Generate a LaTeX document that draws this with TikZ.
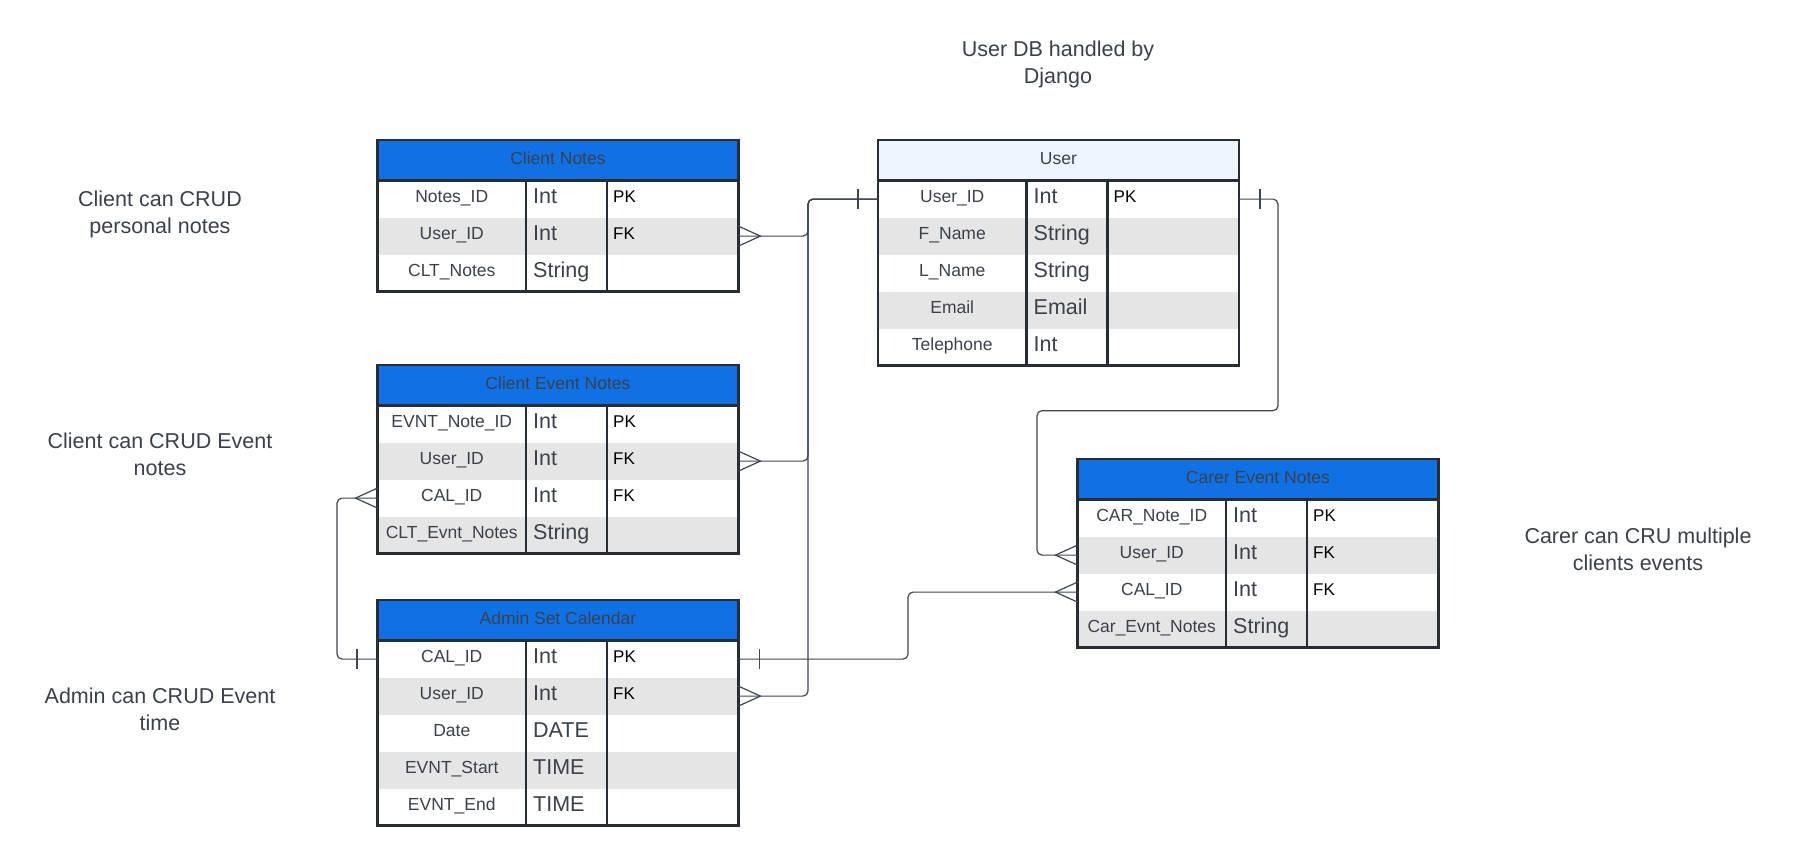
\documentclass[tikz,border=0pt]{standalone}
\usepackage{fontspec}
\setmainfont{Liberation Sans}
\usetikzlibrary{calc}
\definecolor{txt}{HTML}{3A414A}
\definecolor{hdrblue}{HTML}{1071E5}
\definecolor{userhdr}{HTML}{EDF5FF}
\definecolor{rowgray}{HTML}{E5E5E5}
\definecolor{bord}{HTML}{282C33}
\definecolor{linec}{HTML}{3F464F}

\newcommand\ertable[7]{%
  \node[hdrbox, fill=#5, anchor=north west] (#1-h) at (#2,#3) {};
  \node[hdrtext, anchor=base] (#1-title) at ($(#1-h.center)+(0,4.5)$) {#4};
  \foreach \n/\t/\k [count=\i] in {#7} {
    \ifodd\i \def\rf{white}\else \def\rf{rowgray}\fi
    \node[rowbox, fill=\rf, anchor=north west] (#1-r\i) at ($(#1-h.south west)+(0,{37*(\i-1)})$) {};
    \node[nametext, anchor=base] (#1-n\i) at ($(#1-r\i.west)+(74.25,3.5)$) {\n};
    \node[typetext, anchor=base west] (#1-t\i) at ($(#1-r\i.west)+(155.5,4.5)$) {\t};
    \node[keytext, anchor=base west] (#1-k\i) at ($(#1-r\i.west)+(235.5,3.5)$) {\k};
  }
  \draw[border] (#1-h.north west) rectangle ($(#1-h.south east)+(0,{37*#6})$);
  \draw[border] (#1-h.south west) -- (#1-h.south east);
  \draw[border] ($(#1-h.south west)+(148.5,0)$) -- ++(0,{37*#6});
  \draw[border] ($(#1-h.south west)+(229.5,0)$) -- ++(0,{37*#6});
}
\newcommand\crowR[1]{\draw[conn] ($(#1)+(0,-10)$) -- ++(22,10) -- ++(-22,10);}
\newcommand\crowL[1]{\draw[conn] ($(#1)+(0,-10)$) -- ++(-22,10) -- ++(22,10);}
\newcommand\onebar[2]{\draw[conn] ($(#1)+(#2,-10)$) -- ++(0,20);}

\begin{document}
\begin{tikzpicture}[x=1bp,y=-1bp,
  hdrbox/.style={minimum width=360.5bp, minimum height=40bp, inner sep=0pt, draw=none},
  rowbox/.style={minimum width=360.5bp, minimum height=37bp, inner sep=0pt, draw=none},
  hdrtext/.style={font=\fontsize{17.5bp}{21bp}\selectfont, text=txt, inner sep=0pt},
  nametext/.style={font=\fontsize{17.5bp}{21bp}\selectfont, text=txt, inner sep=0pt},
  typetext/.style={font=\fontsize{21.5bp}{25bp}\selectfont, text=txt, inner sep=0pt},
  keytext/.style={font=\fontsize{17bp}{20bp}\selectfont, text=black, inner sep=0pt},
  lbl/.style={font=\fontsize{21.5bp}{27bp}\selectfont, text=txt, align=center, inner sep=0pt},
  border/.style={draw=bord, line width=2.3bp},
  conn/.style={draw=linec, line width=1.2bp},
  route/.style={conn, rounded corners=5bp}]
\useasboundingbox (0,0) rectangle (1798,865);
\fill[white] (0,0) rectangle (1798,865);

\ertable{cn}{377.5}{140}{Client Notes}{hdrblue}{3}{Notes\_ID/Int/PK, User\_ID/Int/FK, CLT\_Notes/String/{}}
\ertable{user}{878}{140}{User}{userhdr}{5}{User\_ID/Int/PK, F\_Name/String/{}, L\_Name/String/{}, Email/Email/{}, Telephone/Int/{}}
\ertable{cen}{377.5}{365}{Client Event Notes}{hdrblue}{4}{EVNT\_Note\_ID/Int/PK, User\_ID/Int/FK, CAL\_ID/Int/FK, CLT\_Evnt\_Notes/String/{}}
\ertable{asc}{377.5}{600}{Admin Set Calendar}{hdrblue}{5}{CAL\_ID/Int/PK, User\_ID/Int/FK, Date/DATE/{}, EVNT\_Start/TIME/{}, EVNT\_End/TIME/{}}
\ertable{car}{1077.5}{459}{Carer Event Notes}{hdrblue}{4}{CAR\_Note\_ID/Int/PK, User\_ID/Int/FK, CAL\_ID/Int/FK, Car\_Evnt\_Notes/String/{}}

% labels
\node[lbl, anchor=north] (lab-db) at (1058,41) {User DB handled by\\Django};
\node[lbl, anchor=north] (lab-cn) at (160,191) {Client can CRUD\\personal notes};
\node[lbl, anchor=north] (lab-cen) at (160,433) {Client can CRUD Event\\notes};
\node[lbl, anchor=north] (lab-asc) at (160,688) {Admin can CRUD Event\\time};
\node[lbl, anchor=north] (lab-car) at (1638,528) {Carer can CRU multiple\\clients events};

% connector routing points
\coordinate (busx) at (808,0);
\coordinate (calx) at (908,0);
\coordinate (rx) at (1278,410.7);
\coordinate (lx) at (1037,410.7);
\coordinate (cx) at (337,0);

\draw[route] (cn-r2.east) -| (busx |- user-r1.west) -- (user-r1.west);
\draw[route] (cen-r2.east) -| (busx |- user-r1.west) -- (user-r1.west);
\draw[route] (asc-r2.east) -| (busx |- user-r1.west) -- (user-r1.west);
\draw[route] (asc-r1.east) -| (calx |- car-r3.west) -- (car-r3.west);
\draw[route] (user-r1.east) -| (rx) -| (lx |- car-r2.west) -- (car-r2.west);
\draw[route] (cen-r3.west) -| (cx |- asc-r1.west) -- (asc-r1.west);

\crowR{cn-r2.east}
\crowR{cen-r2.east}
\crowR{asc-r2.east}
\crowL{car-r3.west}
\crowL{car-r2.west}
\crowL{cen-r3.west}
\onebar{user-r1.west}{-20}
\onebar{asc-r1.east}{21}
\onebar{user-r1.east}{21}
\onebar{asc-r1.west}{-20.5}
\end{tikzpicture}
\end{document}
